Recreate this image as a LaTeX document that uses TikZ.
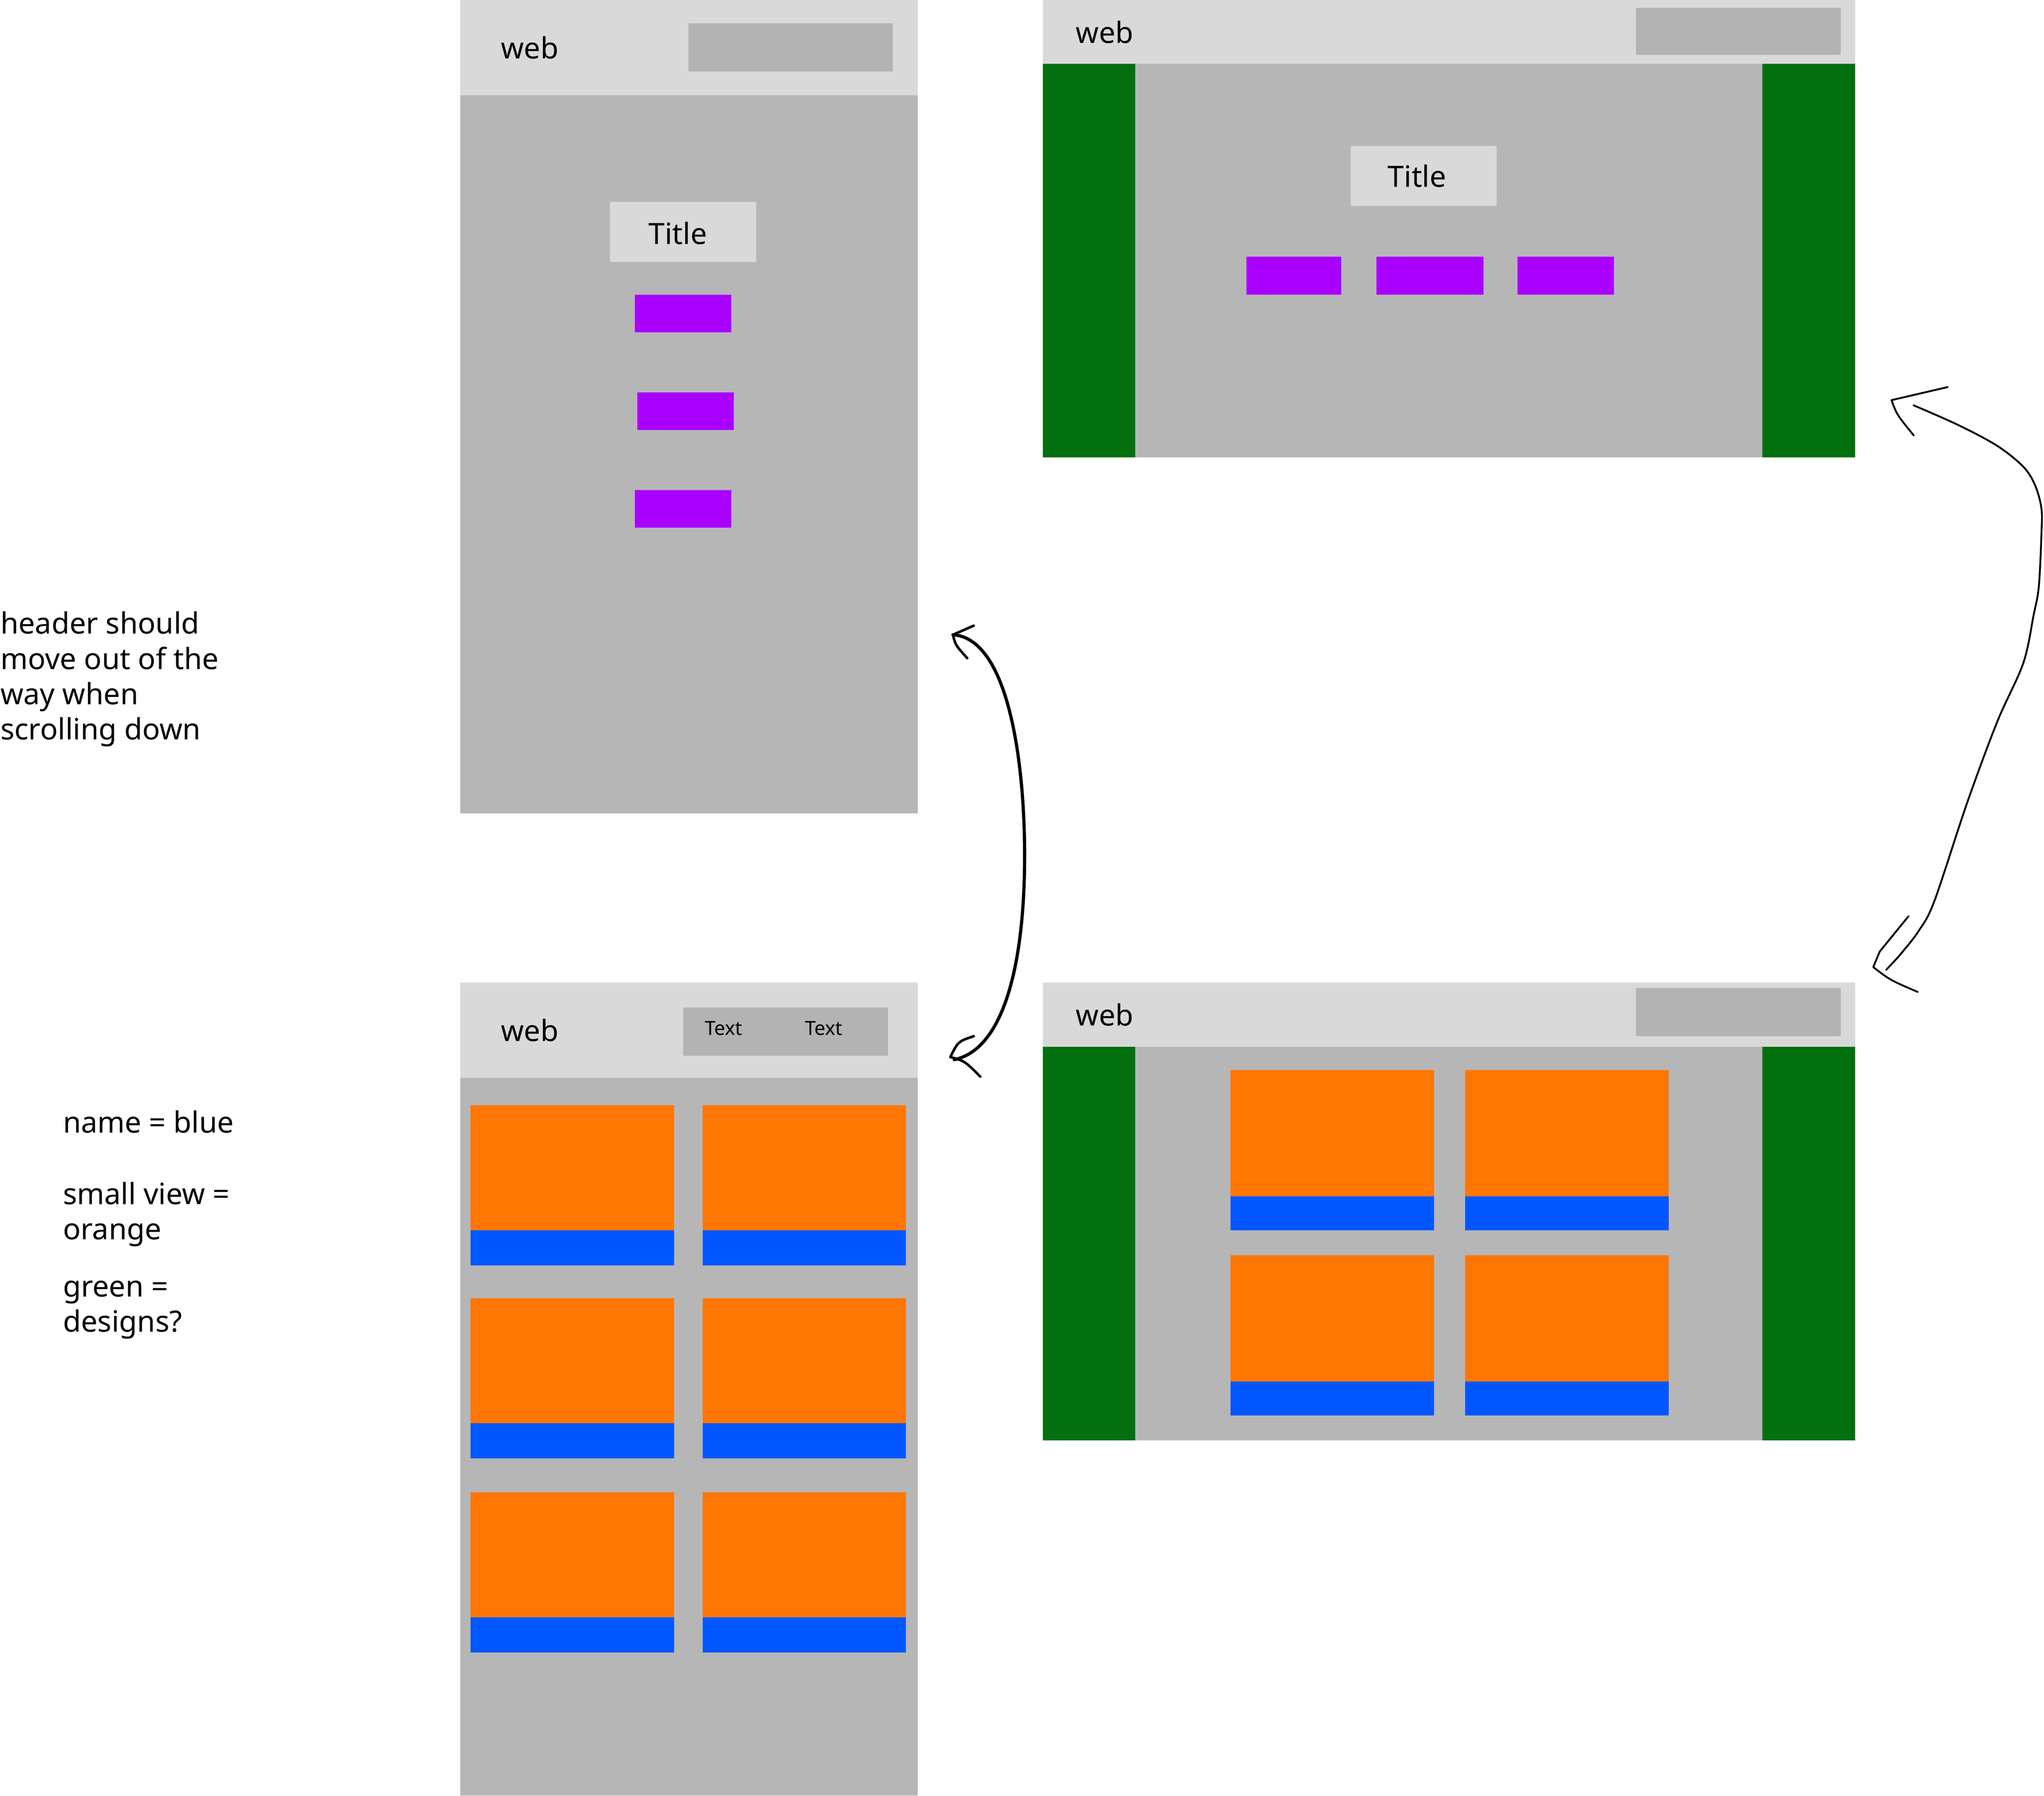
\documentclass[tikz,border=0pt]{standalone}
\usepackage{fontspec}
\setmainfont{Noto Sans}
\definecolor{hdr}{HTML}{D9D9D9}
\definecolor{hbox}{HTML}{B3B3B3}
\definecolor{bodyg}{HTML}{B6B6B6}
\definecolor{purp}{HTML}{AA00FF}
\definecolor{orng}{HTML}{FF7602}
\definecolor{blu}{HTML}{0057FF}
\definecolor{grn}{HTML}{03700F}
\begin{document}
\begin{tikzpicture}[x=0.02cm,y=-0.02cm,
  txt/.style={font=\fontsize{12.8}{15.4}\selectfont, inner sep=0pt, text=black},
  smalltxt/.style={font=\fontsize{8.5}{10}\selectfont, inner sep=0pt, text=black},
  notes/.style={txt, align=left, anchor=base west},
  sketchthick/.style={line width=1.4pt, line cap=round, line join=round, black},
  sketchthin/.style={line width=0.8pt, line cap=round, line join=round, black}]
\useasboundingbox (0,0) rectangle (1568,1377.7);

% ---------- top-left phone ----------
\fill[bodyg] (353,0) rectangle (704,624);
\fill[hdr] (353,0) rectangle (704,73);
\fill[hbox] (528,18) rectangle (685,55);
\node[txt, anchor=base west] (w1) at (384,45) {web};
\fill[hdr] (468,155) rectangle (580,201);
\node[txt] (t1) at (520,179) {Title};
\fill[purp] (487,226) rectangle (561,255);
\fill[purp] (489,301) rectangle (563,330);
\fill[purp] (487,376) rectangle (561,405);

% ---------- top-right desktop ----------
\fill[bodyg] (800,0) rectangle (1423,351);
\fill[hdr] (800,0) rectangle (1423,49);
\fill[hbox] (1255,6) rectangle (1412,42);
\node[txt, anchor=base west] (w2) at (825,33) {web};
\fill[grn] (800,49) rectangle (871,351);
\fill[grn] (1352,49) rectangle (1423,351);
\fill[hdr] (1036,112) rectangle (1148,158);
\node[txt] (t2) at (1087,135) {Title};
\fill[purp] (956,197) rectangle (1029,226);
\fill[purp] (1056,197) rectangle (1138,226);
\fill[purp] (1164,197) rectangle (1238,226);

% ---------- bottom-left phone ----------
\fill[bodyg] (353,754) rectangle (704,1377.7);
\fill[hdr] (353,754) rectangle (704,827);
\fill[hbox] (524,773) rectangle (681,810);
\node[txt, anchor=base west] (w3) at (384,799) {web};
\node[smalltxt] (n1) at (555,789) {Text};
\node[smalltxt] (n2) at (632,789) {Text};
\foreach \yo in {848,996,1145}{
  \foreach \xo in {361,539}{
    \fill[orng] (\xo,\yo) rectangle ++(156,97);
    \fill[blu] (\xo,\yo+96) rectangle ++(156,27);
  }
}

% ---------- bottom-right desktop ----------
\fill[bodyg] (800,754) rectangle (1423,1105);
\fill[hdr] (800,754) rectangle (1423,803);
\fill[hbox] (1255,758) rectangle (1412,795);
\node[txt, anchor=base west] (w4) at (825,787) {web};
\fill[grn] (800,803) rectangle (871,1105);
\fill[grn] (1352,803) rectangle (1423,1105);
\foreach \yo in {821,963}{
  \foreach \xo in {944,1124}{
    \fill[orng] (\xo,\yo) rectangle ++(156,97);
    \fill[blu] (\xo,\yo+97) rectangle ++(156,26);
  }
}

% ---------- notes (anchored at the baseline of the last line) ----------
\node[notes] (note1) at (0,567.5) {header should\\move out of the\\way when\\scrolling down};
\node[notes] (note2) at (48,869) {name = blue};
\node[notes] (note3) at (48,951) {small view =\\orange};
\node[notes] (note4) at (48,1022) {green =\\designs?};

% ---------- left double arrow ----------
\coordinate (la) at (731,487);
\coordinate (lb) at (732,813);
\draw[sketchthick] (la) .. controls (775,490) and (786,590) .. (786,656)
  .. controls (786,740) and (770,805) .. (lb);
\draw[sketchthick, line width=1.1pt] (747,480) -- (la) .. controls (733,495) .. (742,505);
\draw[sketchthick, line width=1.1pt] (747,795) .. controls (735,799) .. (729,811) .. controls (740,814) .. (752,826);

% ---------- right double arrow ----------
\coordinate (ra) at (1468,311);
\coordinate (rb) at (1447,744);
\draw[sketchthin] plot[smooth, tension=0.55] coordinates {(ra) (1502,326) (1532,342) (1552,358) (1561,372) (1566,390) (1566,410) (1564,450) (1560,472) (1552,509) (1532,554) (1509,616) (1484,691) (1472,714) (1458,732) (rb)};
\draw[sketchthin] (1494,297) -- (1451,307) .. controls (1455,318) .. (1468,334);
\draw[sketchthin] (1464,703) -- (1442,730) -- (1437,742) .. controls (1450,752) .. (1471,761);
\end{tikzpicture}
\end{document}
